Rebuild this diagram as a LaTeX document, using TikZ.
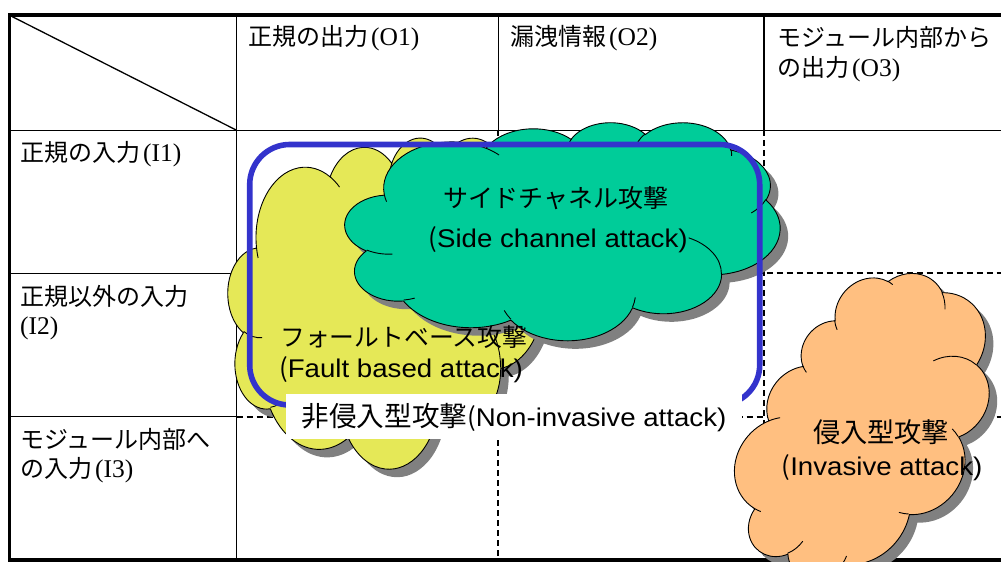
\documentclass[tikz,border=0pt]{standalone}
\usepackage{fontspec}
\setmainfont{Liberation Sans}
\newfontfamily\jpfont{Noto Sans CJK JP}
\newfontfamily\serfont{Liberation Serif}
\newfontfamily\latfont[FakeStretch=1.08]{Liberation Sans}

\definecolor{cloudyellow}{HTML}{E5E857}
\definecolor{cloudgreen}{HTML}{00CC99}
\definecolor{cloudorange}{HTML}{FFBF80}
\definecolor{frameblue}{HTML}{3333CC}
\definecolor{shadowgrey}{HTML}{808080}

% Cloud outline: eleven elliptic puffs in a 432 x 432 box.
% \setarc{id}{x radius}{y radius}{start}{sweep} turns the visual start and
% end angles into the parametric angles that TikZ's arc expects.
\newcommand\setarc[5]{%
  \pgfmathsetmacro\tmpS{(#4)+mod(atan2((#2)*sin(#4),(#3)*cos(#4))-(#4)+540,360)-180}%
  \pgfmathsetmacro\tmpE{(#4)+(#5)+mod(atan2((#2)*sin((#4)+(#5)),(#3)*cos((#4)+(#5)))-((#4)+(#5))+540,360)-180}%
  \expandafter\xdef\csname arcS#1\endcsname{\tmpS}%
  \expandafter\xdef\csname arcE#1\endcsname{\tmpE}%
  \expandafter\xdef\csname arcA#1\endcsname{#2}%
  \expandafter\xdef\csname arcB#1\endcsname{#3}%
}
\newcommand\carc[1]{arc[x radius=\csname arcA#1\endcsname, y radius=\csname arcB#1\endcsname,
  start angle=\csname arcS#1\endcsname, end angle=\csname arcE#1\endcsname]}

\setarc{o1}{67.53}{91.90}{-190.48748}{123.78053}
\setarc{o2}{53.33}{72.67}{-144.10238}{89.94523}
\setarc{o3}{43.65}{59.45}{-145.80792}{99.72302}
\setarc{o4}{48.57}{65.95}{-130.98607}{117.24173}
\setarc{o5}{53.33}{72.73}{-78.70888}{109.02692}
\setarc{o6}{67.75}{92.20}{-46.26725}{130.269}
\setarc{o7}{57.85}{78.67}{0.62502}{114.03333}
\setarc{o8}{67.52}{92.15}{22.4516}{115.17255}
\setarc{o9}{77.20}{105.43}{66.24263}{75.71102}
\setarc{o10}{43.60}{59.18}{-274.94208}{146.73557}
\setarc{o11}{43.45}{59.45}{-246.8285}{152.51885}

\setarc{i1}{43.45}{59.45}{86.742}{26.4295}
\setarc{i2}{43.60}{59.18}{73.6105}{11.4475}
\setarc{i3}{67.52}{92.15}{137.6242}{14.0811}
\setarc{i4}{67.52}{92.15}{6.4533}{15.9984}
\setarc{i5}{57.85}{78.67}{-70.2924}{70.9174}
\setarc{i6}{53.33}{72.73}{30.3180}{27.7515}
\setarc{i7}{48.57}{65.95}{-13.7443}{14.8589}
\setarc{i8}{48.57}{65.95}{-149.1815}{18.1954}
\setarc{i9}{43.65}{59.45}{-163.4943}{17.6864}
\setarc{i10}{67.53}{91.90}{-66.7070}{12.3194}
\setarc{i11}{67.53}{91.90}{157.6544}{11.8582}

\newcommand\cloudoutline{(39.00,143.70) \carc{o1} \carc{o2} \carc{o3} \carc{o4}
  \carc{o5} \carc{o6} \carc{o7} \carc{o8} \carc{o9} \carc{o10} \carc{o11} -- cycle}
\newcommand\cloudcreases{(46.93,261.77) \carc{i1} (69.28,348.99) \carc{i2}
  (164.78,390.90) \carc{i3} (288.27,347.51) \carc{i4} (341.29,229.54) \carc{i5}
  (417.98,153.54) \carc{i6} (383.24,54.26) \carc{i7} (290.78,39.52) \carc{i8}
  (221.41,47.20) \carc{i9} (140.00,51.92) \carc{i10} (41.27,157.89) \carc{i11}}

% \cloudshape{centre x}{centre y}{width}{height}{rotation}{fill}
\newcommand\cloudshape[6]{%
  \begin{scope}[shift={(#1+8,#2+8)}, rotate=#5, x={(#3/432*1pt,0pt)}, y={(0pt,-#4/432*1pt)}, shift={(-216,-216)}]
    \fill[shadowgrey] \cloudoutline;
  \end{scope}
  \begin{scope}[shift={(#1,#2)}, rotate=#5, x={(#3/432*1pt,0pt)}, y={(0pt,-#4/432*1pt)}, shift={(-216,-216)}]
    \filldraw[fill=#6, draw=black, line width=0.9pt] \cloudoutline;
    \draw[line width=0.9pt] \cloudcreases;
  \end{scope}
}

\begin{document}
\begin{tikzpicture}[x=1pt, y=-1pt,
  gridline/.style={line width=1.3pt, black},
  griddash/.style={line width=1.8pt, black, dash pattern=on 6pt off 4pt},
  frameline/.style={line width=3.5pt, black},
  headtext/.style={inner sep=0pt, anchor=base west, font=\fontsize{24}{28}\selectfont},
  cloudtext/.style={inner sep=0pt, anchor=base, font=\fontsize{25.6}{30}\selectfont}]
\useasboundingbox (0,0) rectangle (1001,562);
\clip (0,0) rectangle (1001,562);

% table grid
\draw[gridline] (9,130.2) -- (1010,130.2);
\draw[gridline] (236.5,15) -- (236.5,560);
\draw[gridline] (498.3,15) -- (498.3,130.2);
\draw[gridline] (764,15) -- (764,130.2);
\draw[gridline] (9,273.3) -- (236.5,273.3);
\draw[gridline] (9,416.7) -- (236.5,416.7);
\draw[gridline] (9,15) -- (236.5,130.2);
\draw[griddash] (498.3,130.2) -- (498.3,560);
\draw[griddash] (764,130.2) -- (764,560);
\draw[griddash] (236.5,273.3) -- (1010,273.3);
\draw[griddash] (236.5,416.7) -- (1010,416.7);
\draw[frameline] (1010,15) -- (9.5,15) -- (9.5,560) -- (1010,560);

% header row and header column
\newcommand\lat[1]{\hspace{3pt}{\serfont\fontsize{25.5}{28}\selectfont #1}}
\node[headtext] (o1) at (248,45) {\jpfont 正規の出力\lat{(O1)}};
\node[headtext] (o2) at (510,45) {\jpfont 漏洩情報\lat{(O2)}};
\node[headtext] (o3a) at (777,46) {\jpfont モジュール内部から};
\node[headtext] (o3b) at (777,76) {\jpfont の出力\lat{(O3)}};
\node[headtext] (i1) at (20,161.5) {\jpfont 正規の入力\lat{(I1)}};
\node[headtext] (i2a) at (20,305.5) {\jpfont 正規以外の入力};
\node[headtext] (i2b) at (20,334) {\serfont\fontsize{25.5}{28}\selectfont (I2)};
\node[headtext] (i3a) at (20,448.5) {\jpfont モジュール内部へ};
\node[headtext] (i3b) at (20,477) {\jpfont の入力\lat{(I3)}};

% attack clouds
\cloudshape{385.5}{302.5}{315}{331}{0}{cloudyellow}
\cloudshape{562.5}{231}{435}{218}{0}{cloudgreen}
\cloudshape{867.5}{429}{326}{213}{50}{cloudorange}

\node[cloudtext] (side1) at (556,207.5) {\jpfont\fontsize{25}{30}\selectfont サイドチャネル攻撃};
\node[cloudtext] (side2) at (558,247) {\jpfont(\latfont Side channel attack)};
\node[cloudtext, anchor=base west] (fault1) at (280,346) {\jpfont\fontsize{24.8}{30}\selectfont フォールトベース攻撃};
\node[cloudtext, anchor=base west] (fault2) at (279,377) {\jpfont(\latfont Fault based attack)};
\node[cloudtext] (inv1) at (881,442) {\jpfont\fontsize{27.2}{30}\selectfont 侵入型攻撃};
\node[cloudtext] (inv2) at (882,475) {\jpfont(\latfont Invasive attack)};

% non-invasive group
\draw[frameblue, line width=5.6pt, rounded corners=40pt] (249.7,144.5) rectangle (759.7,405);
\node[fill=white, inner sep=0pt, minimum width=456pt, minimum height=45pt] (nonbox) at (514,416.5) {};
\node[cloudtext] (noninv) at (514,426) {{\jpfont\fontsize{27.6}{30}\selectfont 非侵入型攻撃}{\jpfont(}\latfont Non-invasive attack)};
\end{tikzpicture}
\end{document}
